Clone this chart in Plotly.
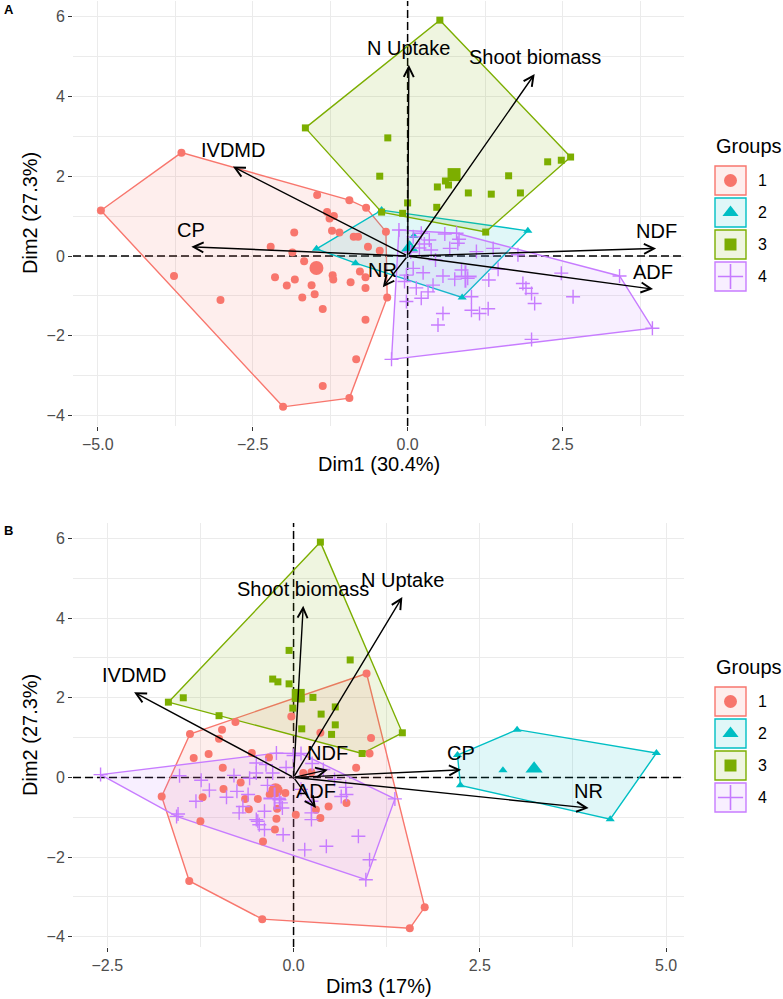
import numpy as np
import plotly.graph_objects as go

# ---------------- data: panel A (Dim1 x Dim2) ----------------
g1_A_x = [-4.95, -3.65, -2.01, -0.94, -0.33, -0.35, -0.67, -0.94, -1.46,
          -3.77, -3.02, -2.21, -1.83, -1.86, -1.67, -2.14, -1.95, -1.82, -1.55,
          -1.50, -1.70, -1.37, -1.21, -1.20, -0.92, -0.77, -0.68, -0.68, -0.64,
          -0.45, -0.87, -0.80, -1.22, -1.10, -1.30, -1.26, -1.19, -0.68, -0.83, -1.37]
g1_A_y = [1.14, 2.59, -3.78, -3.56, -1.04, 0.61, 1.21, 1.40, 1.53,
          -0.50, -1.10, 0.23, 0.59, 0.09, -0.13, -0.53, -0.74, -0.59, -0.73,
          -0.96, -1.04, -1.33, -0.48, -0.59, -0.66, -0.39, -0.53, -0.80, 0.23,
          0.13, 0.48, 0.48, 0.63, 0.59, 1.10, 0.94, 1.00, -1.60, -2.59, -3.26]
g2_A_x = [-0.42, 1.94, 0.88, -0.84, 0.10, -1.47]
g2_A_y = [1.15, 0.63, -1.04, -0.18, 0.50, 0.18]
g3_A_x = [-1.65, 0.52, 2.63, 1.26, -0.42, -0.32, -0.45, 0.00, 2.26, 2.48,
          0.61, 0.66, 0.48, 0.98, 1.35, 1.82, 1.63, 0.47, -0.08]
g3_A_y = [3.21, 5.91, 2.48, 0.60, 1.10, 2.96, 2.00, 1.33, 2.36, 2.40,
          1.88, 1.78, 1.73, 1.58, 1.55, 1.58, 2.01, 1.22, 1.07]
g4_A_x = [-0.14, 0.79, 3.42, 3.95, -0.26,
          0.09, 0.22, 0.35, 0.38, 0.19, 0.27, 0.68, 0.83, 0.81, 1.11,
          1.38, 0.09, 0.25, 0.57, 0.76, 0.87, 0.97, 1.31, 1.46, -0.02,
          0.41, 0.33, 0.22, -0.02, 0.57, 0.49, 1.03, 1.03, 1.16, 1.30,
          1.78, 1.86, 1.91, 2.00, 2.05, 2.48, 2.67, 2.00, -0.05, 0.05,
          0.14, 0.60, 0.45]
g4_A_y = [0.65, 0.57, -0.50, -1.81, -2.59,
          0.48, 0.57, 0.40, 0.15, 0.20, 0.30, 0.19, 0.42, 0.32, 0.11,
          0.19, -0.31, -0.42, -0.50, -0.58, -0.35, -0.56, -0.60, -0.33, -0.48,
          -0.73, -0.90, -1.06, -1.14, -1.44, -1.73, -1.02, -1.36, -1.44, -1.32,
          0.03, -0.69, -0.81, -0.94, -1.19, -0.43, -1.02, -2.09, -0.64, 0.10,
          -0.80, 0.55, -0.10]

# ---------------- data: panel B (Dim3 x Dim2) ----------------
g1_B_x = [0.98, -1.39, -1.77, -1.40, -0.42, 1.56, 1.76,
          -0.96, -1.00, -0.78, -0.56, -0.33, -1.14, -1.34, -0.95, -0.03, 0.36,
          1.04, 1.02, 0.84, 0.71, 0.47, 0.36, 0.03, -0.71, -0.94, -1.25,
          0.13, 0.24, -0.11, -0.23, -0.65, -0.48, -0.32, -1.22, -0.25, -0.41,
          0.30, -0.22, -0.60]
g1_B_y = [2.61, 1.09, -0.48, -2.60, -3.56, -3.79, -3.26,
          1.20, 0.97, 1.39, 0.61, 0.50, 0.59, 0.49, 0.24, 1.53, 1.12,
          0.99, 0.60, 0.24, -0.64, -0.73, -1.02, -0.94, -0.13, -0.29, -1.10,
          0.11, 0.13, -0.39, -1.04, -0.54, -0.54, -0.43, -0.50, -1.31, -1.61,
          -0.81, -0.79, -0.80]
g2_B_x = [3.00, 4.87, 4.25, 2.24, 2.20, 2.81]
g2_B_y = [1.20, 0.61, -1.05, -0.20, 0.56, 0.18]
g3_B_x = [0.36, -1.68, -1.48, -1.00, -0.06, -0.28, -0.21, -0.06, 0.76, 0.10,
          0.26, -0.01, 0.37, 0.56, 0.56, 0.11, 0.51, 0.92, 1.46]
g3_B_y = [5.91, 1.89, 2.00, 1.55, 3.19, 2.47, 2.40, 2.35, 2.95, 1.97,
          2.01, 1.74, 1.59, 1.77, 1.32, 1.22, 1.08, 0.60, 1.12]
g4_B_x = [-2.59, -0.23, 0.10, 1.36, 0.97, -1.57,
          -1.53, -1.24, -1.13, -1.31, -0.76, -0.61, -0.73, -0.39, -0.50, -0.37,
          -0.28, -0.50, -0.19, -0.48, 0.71, 0.24, 0.24, 0.24, 0.70, -0.68,
          -0.50, -0.46, -0.39, -0.17, -0.15, -0.14, 0.15, 0.44, 0.64, 0.87,
          1.02, -0.59, 0.00, -0.10, 0.55, -0.90, 0.25, -0.35, 0.40, -0.80, 0.10, -1.55]
g4_B_y = [0.07, 0.61, 0.60, -0.54, -2.57, -0.98,
          0.04, -0.07, -0.32, -0.60, -0.35, -0.43, -0.89, -0.85, 0.36, 0.32,
          0.11, 0.11, -0.56, -1.10, -0.43, -0.60, -0.89, -1.06, -0.25, -0.73,
          -1.06, -1.19, -1.31, -0.64, -0.77, -1.44, -1.82, -1.73, -0.48, -1.48,
          -2.07, -0.02, 0.55, 0.25, -0.05, -0.50, 0.35, -0.20, 0.20, 0.05, -0.30, -0.92]

# ---------------- variable loadings (arrows) ----------------
var_names = ["N Uptake", "Shoot biomass", "IVDMD", "CP", "NR", "NDF", "ADF"]
load_A_x = [0.02, 2.05, -2.82, -3.49, -0.40, 4.01, 3.96]
load_A_y = [4.79, 4.56, 2.24, 0.23, -0.78, 0.19, -0.83]
load_B_x = [1.46, 0.13, -2.14, 2.25, 3.96, 0.46, 0.30]
load_B_y = [4.53, 4.31, 2.14, 0.19, -0.77, 0.19, -0.77]

groups = ["1", "2", "3", "4"]
colors = ["#F8766D", "#00BFC4", "#7CAE00", "#C77CFF"]
symbols = ["circle", "triangle-up", "square", "cross-thin"]
sizes = [8, 8, 7, 10]
mean_sizes = [14, 15, 13, 16]

FONT = "Liberation Sans, Arial, Helvetica, sans-serif"
W, H = 783, 999
RANGE_A_X = [-5.40, 4.46]
RANGE_B_X = [-2.96, 5.24]
RANGE_Y = [-4.26, 6.39]


def rgba(hexc, a):
    h = hexc.lstrip("#")
    return "rgba(%d,%d,%d,%s)" % (int(h[0:2], 16), int(h[2:4], 16), int(h[4:6], 16), a)


def hull(xs, ys):
    pts = sorted(set(zip(xs, ys)))
    if len(pts) < 3:
        return pts

    def cross(o, a, b):
        return (a[0] - o[0]) * (b[1] - o[1]) - (a[1] - o[1]) * (b[0] - o[0])
    lower, upper = [], []
    for p in pts:
        while len(lower) >= 2 and cross(lower[-2], lower[-1], p) <= 0:
            lower.pop()
        lower.append(p)
    for p in reversed(pts):
        while len(upper) >= 2 and cross(upper[-2], upper[-1], p) <= 0:
            upper.pop()
        upper.append(p)
    return lower[:-1] + upper[:-1]


fig = go.Figure()

panels = [
    ("x", "y", RANGE_A_X, [(g1_A_x, g1_A_y), (g2_A_x, g2_A_y), (g3_A_x, g3_A_y), (g4_A_x, g4_A_y)],
     load_A_x, load_A_y),
    ("x2", "y2", RANGE_B_X, [(g1_B_x, g1_B_y), (g2_B_x, g2_B_y), (g3_B_x, g3_B_y), (g4_B_x, g4_B_y)],
     load_B_x, load_B_y),
]

annotations = []
shapes = []

for xa, ya, xr, data, lx, ly in panels:
    # dashed zero reference lines (drawn first, under everything else)
    fig.add_trace(go.Scatter(x=[0, 0], y=RANGE_Y, xaxis=xa, yaxis=ya, mode="lines",
                             line=dict(color="black", width=1.5, dash="8px,4px"),
                             hoverinfo="skip", showlegend=False))
    fig.add_trace(go.Scatter(x=xr, y=[0, 0], xaxis=xa, yaxis=ya, mode="lines",
                             line=dict(color="black", width=1.5, dash="8px,4px"),
                             hoverinfo="skip", showlegend=False))
    # hulls
    for gi, (gx, gy) in enumerate(data):
        h = hull(gx, gy)
        hx = [p[0] for p in h] + [h[0][0]]
        hy = [p[1] for p in h] + [h[0][1]]
        fig.add_trace(go.Scatter(x=hx, y=hy, xaxis=xa, yaxis=ya, mode="lines",
                                 fill="toself", fillcolor=rgba(colors[gi], 0.12),
                                 line=dict(color=colors[gi], width=1.4),
                                 hoverinfo="skip", showlegend=False))
    # points + means
    for gi, (gx, gy) in enumerate(data):
        lw = 1.4 if symbols[gi] == "cross-thin" else 0
        fig.add_trace(go.Scatter(x=gx, y=gy, xaxis=xa, yaxis=ya, mode="markers",
                                 marker=dict(symbol=symbols[gi], size=sizes[gi], color=colors[gi],
                                             line=dict(color=colors[gi], width=lw)),
                                 showlegend=False))
        fig.add_trace(go.Scatter(x=[float(np.mean(gx))], y=[float(np.mean(gy))], xaxis=xa, yaxis=ya,
                                 mode="markers",
                                 marker=dict(symbol=symbols[gi], size=mean_sizes[gi], color=colors[gi],
                                             line=dict(color=colors[gi], width=2 if lw else 0)),
                                 showlegend=False))
    # arrows + labels
    for name, vx, vy in zip(var_names, lx, ly):
        annotations.append(dict(x=vx, y=vy, ax=0, ay=0, xref=xa, yref=ya, axref=xa, ayref=ya,
                                text="", showarrow=True, arrowhead=5, arrowsize=1.4,
                                arrowwidth=1.4, arrowcolor="black", standoff=0, startstandoff=0))
        annotations.append(dict(x=vx, y=vy, xref=xa, yref=ya, text=name, showarrow=False,
                                yshift=17, xanchor="center", yanchor="middle",
                                font=dict(family=FONT, size=20, color="black")))


def px(x):
    return x / W


def py(y):
    return 1 - y / H


axis_common = dict(showgrid=True, gridcolor="#EBEBEB", gridwidth=1.4, zeroline=False,
                   showline=False, ticks="outside", ticklen=4, tickwidth=1.4, tickcolor="#333333",
                   tickfont=dict(family=FONT, size=16, color="#4D4D4D"))

xdom = [73 / W, 684 / W]
fig.update_layout(
    width=W, height=H, margin=dict(l=0, r=0, t=0, b=0),
    paper_bgcolor="white", plot_bgcolor="rgba(0,0,0,0)",
    showlegend=False,
    font=dict(family=FONT),
    xaxis=dict(domain=xdom, range=RANGE_A_X, anchor="y", tickvals=[-5, -2.5, 0, 2.5],
               ticktext=["\u22125.0", "\u22122.5", "0.0", "2.5"],
               minor=dict(tickvals=[-3.75, -1.25, 1.25, 3.75], showgrid=True, gridcolor="#EBEBEB",
                          gridwidth=0.8, ticks=""), **axis_common),
    yaxis=dict(domain=[py(426), py(1)], range=RANGE_Y, anchor="x", tickvals=[-4, -2, 0, 2, 4, 6],
               ticktext=["\u22124", "\u22122", "0", "2", "4", "6"],
               minor=dict(tickvals=[-3, -1, 1, 3, 5], showgrid=True, gridcolor="#EBEBEB",
                          gridwidth=0.8, ticks=""), **axis_common),
    xaxis2=dict(domain=xdom, range=RANGE_B_X, anchor="y2", tickvals=[-2.5, 0, 2.5, 5],
                ticktext=["\u22122.5", "0.0", "2.5", "5.0"],
                minor=dict(tickvals=[-1.25, 1.25, 3.75], showgrid=True, gridcolor="#EBEBEB",
                           gridwidth=0.8, ticks=""), **axis_common),
    yaxis2=dict(domain=[py(947), py(523)], range=RANGE_Y, anchor="x2",
                tickvals=[-4, -2, 0, 2, 4, 6],
                ticktext=["\u22124", "\u22122", "0", "2", "4", "6"],
                minor=dict(tickvals=[-3, -1, 1, 3, 5], showgrid=True, gridcolor="#EBEBEB",
                           gridwidth=0.8, ticks=""), **axis_common),
    xaxis3=dict(domain=[0, 1], range=[0, W], anchor="y3", visible=False, fixedrange=True),
    yaxis3=dict(domain=[0, 1], range=[H, 0], anchor="x3", visible=False, fixedrange=True),
)

# axis titles
for txt, x, y, ang in [("Dim1 (30.4%)", 379, 464, 0), ("Dim2 (27.3%)", 30, 213, -90),
                       ("Dim3 (17%)", 379, 986, 0), ("Dim2 (27.3%)", 30, 735, -90)]:
    annotations.append(dict(x=px(x), y=py(y), xref="paper", yref="paper", text=txt, showarrow=False,
                            textangle=ang, xanchor="center", yanchor="middle",
                            font=dict(family=FONT, size=20, color="black")))
# panel tags
for txt, x, y in [("A", 2, 9), ("B", 2, 530)]:
    annotations.append(dict(x=px(x), y=py(y), xref="paper", yref="paper", text="<b>%s</b>" % txt,
                            showarrow=False, xanchor="left", yanchor="middle",
                            font=dict(family=FONT, size=13, color="black")))

# manual legends
for title_y, first_top in [(146, 166), (667, 687)]:
    annotations.append(dict(x=px(714), y=py(title_y), xref="paper", yref="paper", text="Groups",
                            showarrow=False, xanchor="left", yanchor="middle",
                            font=dict(family=FONT, size=20, color="black")))
    for gi, g in enumerate(groups):
        top = first_top + 32 * gi
        shapes.append(dict(type="rect", xref="x3", yref="y3", x0=715, x1=746, y0=top, y1=top + 29,
                           fillcolor=rgba(colors[gi], 0.12), line=dict(color=colors[gi], width=1.4),
                           layer="above"))
        lw = 1.6 if symbols[gi] == "cross-thin" else 0
        fig.add_trace(go.Scatter(x=[730.5], y=[top + 14.5], xaxis="x3", yaxis="y3", mode="markers",
                                 marker=dict(symbol=symbols[gi], size=[13, 14, 12, 18][gi],
                                             color=colors[gi], line=dict(color=colors[gi], width=lw)),
                                 hoverinfo="skip", showlegend=False))
        annotations.append(dict(x=px(756), y=py(top + 14.5), xref="paper", yref="paper", text=g,
                                showarrow=False, xanchor="left", yanchor="middle",
                                font=dict(family=FONT, size=16, color="black")))

fig.update_layout(annotations=annotations, shapes=shapes)
fig.write_html(
    "out.html",
    config={"displayModeBar": False},
    post_script="document.body.style.margin='0';document.body.style.overflow='hidden';"
                "document.documentElement.style.overflow='hidden';",
)
